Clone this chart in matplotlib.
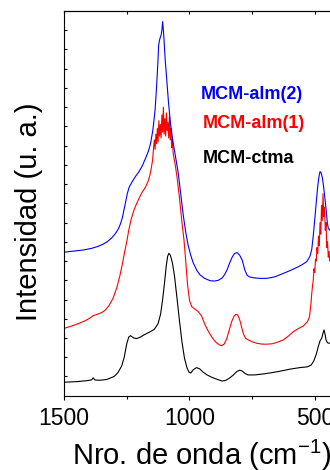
import matplotlib
matplotlib.use('Agg')
import matplotlib.pyplot as plt

plt.rcParams['font.family'] = ['Liberation Sans', 'DejaVu Sans']
plt.rcParams['mathtext.fontset'] = 'custom'
plt.rcParams['mathtext.rm'] = 'Liberation Sans'
plt.rcParams['mathtext.it'] = 'Liberation Sans:italic'
plt.rcParams['mathtext.bf'] = 'Liberation Sans:bold'

# MCM-ctma (negro)
wn_ctma = [1500, 1450, 1410, 1390, 1384, 1377, 1360, 1330, 1300, 1285, 1270, 1260, 1250, 1242, 1235,
           1222, 1210, 1195, 1180, 1160, 1140, 1125, 1115, 1107, 1100, 1093, 1087, 1082, 1076, 1068,
           1060, 1050, 1040, 1030, 1020, 1010, 1002, 995, 985, 972, 960, 945, 930, 910, 890,
           870, 855, 840, 825, 812, 800, 790, 778, 766, 740, 706, 680, 640, 600, 560,
           530, 515, 505, 495, 487, 480, 473, 468, 464, 460, 456, 450, 440, 430, 420, 410, 400]
int_ctma = [0.70, 0.73, 0.78, 0.82, 0.93, 0.82, 0.80, 0.84, 1.00, 1.20, 1.55, 2.00, 2.70, 3.05, 3.12,
            3.00, 2.97, 3.05, 3.17, 3.30, 3.45, 3.75, 4.25, 5.0, 5.8, 6.7, 7.25, 7.40, 7.30, 6.90,
            6.25, 5.1, 3.9, 2.8, 1.95, 1.45, 1.22, 1.18, 1.35, 1.46, 1.40, 1.22, 1.08, 0.95, 0.85,
            0.76, 0.80, 0.92, 1.08, 1.25, 1.33, 1.28, 1.15, 1.08, 1.08, 1.13, 1.18, 1.27, 1.38, 1.46,
            1.50, 1.60, 1.80, 2.15, 2.55, 2.85, 3.00, 3.25, 3.42, 3.20, 2.90, 2.75, 2.72, 2.68, 2.6, 2.5, 2.4]

# MCM-alm(1) (rojo, con ruido en los picos)
wn_alm1 = [1500, 1470, 1440, 1415, 1395, 1385, 1370, 1350, 1335, 1320, 1305, 1290, 1278, 1268, 1258,
           1250, 1242, 1232, 1220, 1205, 1190, 1175, 1165, 1158, 1152, 1147,
           1143, 1140, 1137, 1134, 1131, 1128, 1125, 1122, 1119, 1116, 1113, 1110, 1107, 1104, 1101,
           1098, 1095, 1092, 1089, 1086, 1083, 1080, 1077, 1074, 1071, 1068, 1065,
           1058, 1050, 1040, 1030, 1022, 1015, 1008, 1000, 991, 978, 965, 952, 938, 925, 912,
           900, 892, 882, 872, 862, 852, 842, 832, 822, 815, 808, 800, 792, 785, 776,
           766, 750, 730, 710, 690, 670, 650, 626, 606, 586, 565, 547, 530, 522,
           516, 513, 510, 507, 504, 501, 498, 495, 492, 489, 486, 483, 480, 477, 474,
           471, 468, 465, 462, 459, 456, 453, 450, 447, 444, 441, 438, 435,
           430, 420, 410, 400]
int_alm1 = [3.50, 3.62, 3.76, 3.90, 4.05, 4.15, 4.22, 4.32, 4.45, 4.70, 5.05, 5.60, 6.20, 6.80, 7.50,
            8.00, 8.60, 9.20, 9.70, 10.15, 10.55, 10.85, 11.15, 11.45, 11.85, 12.25,
            12.9, 13.3, 12.8, 13.6, 13.1, 13.9, 13.2, 14.3, 13.5, 14.1, 13.4, 14.6, 13.7, 15.0, 13.6,
            14.4, 13.5, 14.7, 13.8, 14.2, 13.4, 14.5, 13.3, 13.9, 12.9, 13.3, 12.6,
            12.1, 11.4, 10.3, 9.0, 8.1, 7.0, 5.8, 4.95, 4.63, 4.50, 4.37, 4.15, 3.68, 3.35, 3.07,
            2.85, 2.75, 2.65, 2.60, 2.68, 2.95, 3.40, 3.85, 4.15, 4.23, 4.20, 3.95, 3.55, 3.20, 2.98,
            2.90, 2.80, 2.72, 2.68, 2.68, 2.70, 2.78, 2.90, 3.10, 3.33, 3.50, 3.62, 3.85, 4.10,
            4.8, 5.3, 5.7, 6.0, 6.6, 6.4, 7.1, 7.0, 7.7, 7.4, 8.3, 7.8, 9.0, 8.4, 9.9,
            9.1, 10.5, 9.3, 9.8, 8.6, 9.0, 7.7, 8.0, 7.2, 7.5, 7.0, 7.2, 6.9,
            6.6, 6.4, 6.2, 6.0]

# MCM-alm(2) (azul)
wn_alm2 = [1500, 1460, 1420, 1390, 1367, 1345, 1327, 1310, 1294, 1283, 1274, 1267, 1261, 1254, 1248,
           1240, 1228, 1215, 1201, 1188, 1175, 1164, 1155, 1146, 1137, 1131, 1126, 1123, 1120, 1117,
           1113, 1110, 1107, 1104, 1101, 1097, 1091, 1084, 1076, 1067, 1054, 1045, 1035, 1025, 1015,
           1005, 995, 985, 970, 958, 940, 918, 900, 885, 870, 860, 850, 840, 830, 820,
           810, 800, 790, 780, 770, 760, 740, 719, 692, 660, 626, 600, 570, 550, 533,
           520, 513, 507, 500, 494, 489, 484, 480, 476, 471, 466, 460, 455, 451, 447,
           440, 430, 420, 410, 400]
int_alm2 = [7.46, 7.52, 7.58, 7.66, 7.75, 7.87, 8.01, 8.20, 8.45, 8.68, 8.97, 9.28, 9.66, 10.1, 10.5,
            10.85, 11.13, 11.4, 11.65, 11.95, 12.35, 12.7, 13.12, 13.8, 14.86, 16.1, 17.3, 18.2, 18.45, 18.6,
            18.75, 19.0, 19.45, 19.0, 18.4, 17.5, 16.5, 15.3, 14.2, 13.3, 12.3, 11.6, 10.5, 9.4, 8.5,
            7.8, 7.3, 6.9, 6.5, 6.28, 6.10, 5.98, 5.96, 6.0, 6.12, 6.30, 6.55, 6.90, 7.20, 7.40,
            7.44, 7.30, 7.05, 6.55, 6.25, 6.17, 6.12, 6.10, 6.10, 6.18, 6.36, 6.50, 6.68, 6.82, 6.97,
            7.25, 7.6, 8.3, 9.3, 10.2, 10.9, 11.4, 11.65, 11.6, 11.35, 10.9, 10.2, 9.6, 9.0, 8.7,
            8.6, 8.3, 8.0, 7.8, 7.6]

series_names = ['MCM-alm(2)', 'MCM-alm(1)', 'MCM-ctma']
series_colors = ['#0000FF', '#FF0000', '#000000']

fig = plt.figure(figsize=(3.3, 4.7), dpi=100)
# el eje se extiende mas alla del borde derecho (figura recortada)
ax = fig.add_axes([0.1939, 0.1581, 0.8367, 0.8185])

ax.plot(wn_ctma, int_ctma, color=series_colors[2], lw=0.8)
ax.plot(wn_alm1, int_alm1, color=series_colors[1], lw=0.8)
ax.plot(wn_alm2, int_alm2, color=series_colors[0], lw=0.8)

ax.set_xlim(1500, 400)
ax.set_ylim(0, 20)

ax.set_xticks([1500, 1000, 500])
ax.set_xticks([1250, 750], minor=True)
ax.tick_params(axis='x', which='major', direction='out', length=3, width=0.8,
               labelsize=16.5, pad=5)
ax.tick_params(axis='x', which='minor', direction='out', length=2, width=0.8)
ax.set_yticks(range(0, 21))
ax.tick_params(axis='y', direction='in', length=2, width=0.8, labelleft=False)
ax.spines['right'].set_visible(False)
for s in ['left', 'bottom', 'top']:
    ax.spines[s].set_linewidth(0.8)

# ticks superiores hacia dentro
top = ax.secondary_xaxis('top')
top.set_xticks([1500, 1000, 500])
top.set_xticks([1250, 750], minor=True)
top.tick_params(which='both', direction='in', length=2.2, width=0.8, labeltop=False)
top.spines['top'].set_linewidth(0.8)

fig.text(0.612, 0.0106, 'Nro. de onda (cm$^{-1}$)', fontsize=21,
         ha='center', va='baseline')
fig.text(0.111, 0.549, 'Intensidad (u. a.)', fontsize=21, rotation=90,
         rotation_mode='anchor', ha='center', va='baseline')

label_pos = [(0.607, 0.789), (0.614, 0.728), (0.614, 0.653)]
for name, col, (lx, ly) in zip(series_names, series_colors, label_pos):
    fig.text(lx, ly, name, color=col, fontsize=13, fontweight='bold',
             ha='left', va='baseline')

fig.savefig('out.png', dpi=100)
